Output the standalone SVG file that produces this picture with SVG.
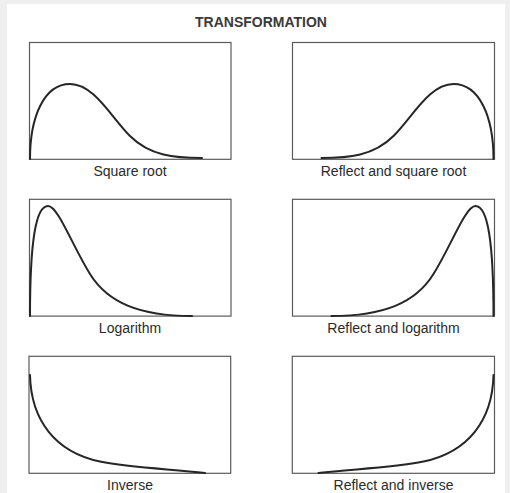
<svg xmlns="http://www.w3.org/2000/svg" width="510" height="493" viewBox="0 0 510 493">
<style>
.frame{fill:#fff;stroke:#5a5a5a;stroke-width:1.2}
.curve{fill:none;stroke:#262626;stroke-width:2;stroke-linecap:round;stroke-linejoin:round}
.lbl{font-family:"Liberation Sans",Arial,sans-serif;font-size:14px;fill:#2a2a2a;text-anchor:middle}
.title{font-family:"Liberation Sans",Arial,sans-serif;font-size:14px;font-weight:bold;fill:#3a3a3a;text-anchor:middle}
</style>
<rect x="0" y="0" width="510" height="493" fill="#efefef"/>
<rect x="7" y="4" width="498" height="489" fill="#fff"/>
<text class="title" x="261" y="27">TRANSFORMATION</text>
<g id="sqrt">
<rect class="frame" x="29.5" y="42.5" width="201.5" height="116.8"/>
<path class="curve" d="M30,159 C30,117 44,84 70,84 C94,84 111,117 130,136 C150,156 175,158 202,158"/>
<text class="lbl" x="130" y="176">Square root</text>
</g>
<g id="reflect-sqrt">
<rect class="frame" x="292.5" y="42.5" width="202" height="116.8"/>
<path class="curve" d="M493.5,159 C493.5,117 479.5,84 453.5,84 C429.5,84 412.5,117 393.5,136 C373.5,156 348.5,158 321.5,158"/>
<text class="lbl" x="393.5" y="176">Reflect and square root</text>
</g>
<g id="log">
<rect class="frame" x="29.5" y="199.3" width="201.5" height="116.8"/>
<path class="curve" d="M30,316 C30,240 36,206 48,206 C58,206 72,245 90,274 C108,303 140,316 192,316"/>
<text class="lbl" x="130" y="333">Logarithm</text>
</g>
<g id="reflect-log">
<rect class="frame" x="292.5" y="199.3" width="202" height="116.8"/>
<path class="curve" d="M493.5,316 C493.5,240 487.5,206 475.5,206 C465.5,206 451.5,245 433.5,274 C415.5,303 383.5,316 331.5,316"/>
<text class="lbl" x="393.5" y="333">Reflect and logarithm</text>
</g>
<g id="inverse">
<rect class="frame" x="29" y="356.3" width="201.7" height="117"/>
<path class="curve" d="M30,375 C31,420 55,452 100,461.5 C130,467.5 170,469 205,473"/>
<text class="lbl" x="130" y="490">Inverse</text>
</g>
<g id="reflect-inverse">
<rect class="frame" x="292.3" y="356.3" width="202.2" height="117"/>
<path class="curve" d="M493.5,375 C492.5,420 468.5,452 423.5,461.5 C393.5,467.5 353.5,469 318.5,473"/>
<text class="lbl" x="393.5" y="490">Reflect and inverse</text>
</g>
</svg>
